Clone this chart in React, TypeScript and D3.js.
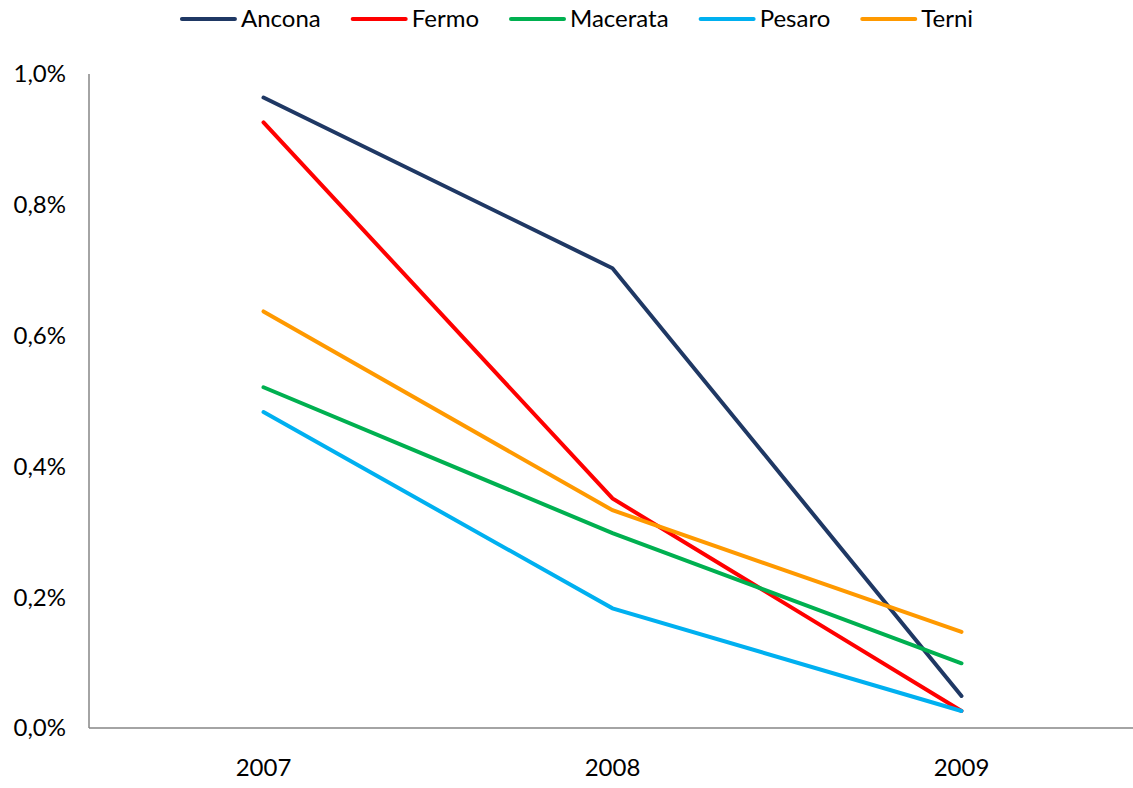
import React, { useEffect, useRef } from "react";
import * as d3 from "d3";

const years = ["2007", "2008", "2009"];
const seriesNames = ["Ancona", "Fermo", "Macerata", "Pesaro", "Terni"];
const ancona = [0.964, 0.703, 0.049];
const fermo = [0.926, 0.351, 0.026];
const macerata = [0.521, 0.298, 0.099];
const pesaro = [0.483, 0.183, 0.026];
const terni = [0.637, 0.333, 0.147];
const seriesValues = [ancona, fermo, macerata, pesaro, terni];
const seriesColors = ["#1F3864", "#FF0000", "#00B050", "#00B0F0", "#FF9900"];
const yTicks = [0, 0.2, 0.4, 0.6, 0.8, 1.0];

const W = 1133;
const H = 788;
const FONT = "Lato, 'Liberation Sans', sans-serif";

export default function App() {
  const ref = useRef<SVGSVGElement | null>(null);

  useEffect(() => {
    const svg = d3.select(ref.current);
    svg.selectAll("*").remove();

    const left = 89, right = 1136, top = 74, bottom = 728;
    const x = d3.scaleBand().domain(years).range([left, right]).paddingInner(0).paddingOuter(0);
    const y = d3.scaleLinear().domain([0, 1.0]).range([bottom, top]);

    // axes
    svg.append("line").attr("x1", left).attr("x2", left).attr("y1", top).attr("y2", bottom)
      .attr("stroke", "#868686").attr("stroke-width", 1.5);
    svg.append("line").attr("x1", left).attr("x2", right).attr("y1", bottom).attr("y2", bottom)
      .attr("stroke", "#868686").attr("stroke-width", 1.5);

    svg.selectAll(".ytick").data(yTicks).enter().append("text")
      .attr("x", 66).attr("y", (d) => y(d)).attr("dy", "0.35em")
      .attr("text-anchor", "end").attr("font-family", FONT).attr("font-size", 24)
      .attr("fill", "#000")
      .text((d) => d.toFixed(1).replace(".", ",") + "%");

    svg.selectAll(".xtick").data(years).enter().append("text")
      .attr("x", (d) => (x(d) as number) + x.bandwidth() / 2).attr("y", 776)
      .attr("text-anchor", "middle").attr("font-family", FONT).attr("font-size", 24)
      .attr("fill", "#000").text((d) => d);

    const line = d3.line<number>()
      .x((_, i) => (x(years[i]) as number) + x.bandwidth() / 2)
      .y((d) => y(d));

    seriesValues.forEach((vals, i) => {
      svg.append("path").attr("d", line(vals) as string).attr("fill", "none")
        .attr("stroke", seriesColors[i]).attr("stroke-width", 4)
        .attr("stroke-linecap", "round").attr("stroke-linejoin", "miter");
    });

    // legend
    const lg = svg.append("g");
    let cx = 0;
    const ly = 19;
    seriesNames.forEach((name, i) => {
      const g = lg.append("g").attr("transform", `translate(${cx},0)`);
      g.append("line").attr("x1", 2).attr("x2", 55).attr("y1", ly).attr("y2", ly)
        .attr("stroke", seriesColors[i]).attr("stroke-width", 4).attr("stroke-linecap", "round");
      const t = g.append("text").attr("x", 61).attr("y", ly).attr("dy", "0.35em")
        .attr("font-family", FONT).attr("font-size", 24).attr("fill", "#000").text(name);
      const tw = (t.node() as SVGTextElement).getComputedTextLength();
      cx += 61 + tw + 30;
    });
    const total = cx - 30;
    lg.attr("transform", `translate(${(W - total) / 2 + 10},0)`);
  }, []);

  return (
    <svg ref={ref} width={W} height={H}
      style={{ position: "absolute", left: 0, top: 0, background: "#fff" }} />
  );
}
